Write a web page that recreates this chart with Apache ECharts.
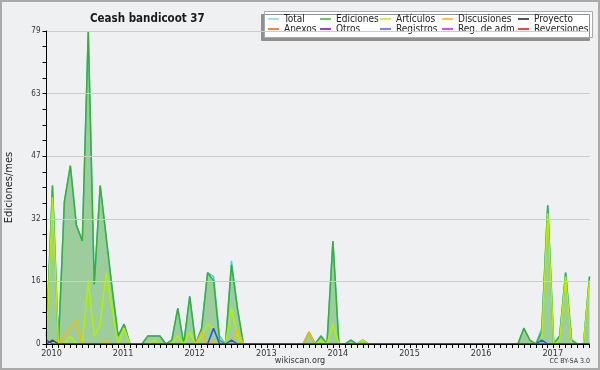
<!DOCTYPE html>
<html><head><meta charset="utf-8">
<script src="https://cdn.jsdelivr.net/npm/echarts@6/dist/echarts.min.js"></script>
<style>html,body{margin:0;padding:0;background:#eff0f2}#c{width:600px;height:370px}</style>
</head><body><div id="c"></div>
<script>
const years = ['2010','2011','2012','2013','2014','2015','2016','2017'];
const yTickLabels = ['0','16','32','47','63','79'];
const monthsShown = 92; // Jan 2010 .. Aug 2017

const total = [2,40,0,36,45,30,26,79,15,40, 27,14,2,5,0,0,0,2,2,2, 0,1,9,0,12,0,4,18,17,2, 0,21,9,0,0,0,0,0,0,0, 0,0,0,0,3,0,2,0,26,0, 0,1,0,1,0,0,0,0,0,0, 0,0,0,0,0,0,0,0,0,0, 0,0,0,0,0,0,0,0,0,0, 4,1,0,4,35,0,2,18,1,0, 0,17];
const ediciones = [2,40,0,36,45,30,26,79,15,40, 27,14,2,5,0,0,0,2,2,2, 0,1,9,0,12,0,4,18,16,1, 0,20,9,0,0,0,0,0,0,0, 0,0,0,0,3,0,2,0,26,0, 0,1,0,1,0,0,0,0,0,0, 0,0,0,0,0,0,0,0,0,0, 0,0,0,0,0,0,0,0,0,0, 4,1,0,3,35,0,2,18,1,0, 0,17];
const articulos = [0,37,0,0,2,0,0,16,2,5, 18,9,0,4,0,0,0,0,1,0, 0,0,2,0,3,0,2,5,4,0, 0,9,2,0,0,0,0,0,0,0, 0,0,0,0,0,0,1,0,5,0, 0,0,0,1,0,0,0,0,0,0, 0,0,0,0,0,0,0,0,0,0, 0,0,0,0,0,0,0,0,0,0, 0,0,0,1,33,0,1,17,0,0, 0,16];
const discusiones = [0,0,0,2,4,6,0,0,0,0, 1,0,0,0,0,0,0,0,0,0, 0,0,0,0,0,0,3,0,1,0, 0,0,4,0,0,0,0,0,0,0, 0,0,0,0,3,0,0,0,0,0, 0,0,0,0,0,0,0,0,0,0, 0,0,0,0,0,0,0,0,0,0, 0,0,0,0,0,0,0,0,0,0, 0,0,0,0,0,0,0,0,0,0, 0,0];
const registros = [1,0,0,0,0,0,0,0,0,0, 0,0,0,0,0,0,0,0,0,0, 0,0,0,0,0,0,0,0,4,0, 0,1,0,0,0,0,0,0,0,0, 0,0,0,0,0,0,0,0,0,0, 0,0,0,0,0,0,0,0,0,0, 0,0,0,0,0,0,0,0,0,0, 0,0,0,0,0,0,0,0,0,0, 0,0,0,1,0,0,0,0,0,0, 0,0];
const proyecto = [0,1,0,0,0,0,0,0,0,0, 0,0,0,0,0,0,0,0,0,0, 0,0,0,0,0,0,0,0,0,0, 0,0,0,0,0,0,0,0,0,0, 0,0,0,0,0,0,0,0,0,0, 0,0,0,0,0,0,0,0,0,0, 0,0,0,0,0,0,0,0,0,0, 0,0,0,0,0,0,0,0,0,0, 0,0,0,0,0,0,0,0,0,0, 0,0];
const anexos = [];
const otros = [];
const regAdm = [];
const reversiones = [];

const categories = [];
for (let i = 0; i < monthsShown; i++) {
  const y = years[Math.floor(i / 12)];
  const m = (i % 12) + 1;
  categories.push(y + '-' + (m < 10 ? '0' + m : m));
}

const F = '"DejaVu Sans Condensed", "DejaVu Sans", sans-serif';
const legendCols = [268, 320, 380, 442, 518];
const legendRows = [14, 24];
const legendItems = [
  ['Total', 0, 0], ['Ediciones', 1, 0], ['Artículos', 2, 0], ['Discusiones', 3, 0], ['Proyecto', 4, 0],
  ['Anexos', 0, 1], ['Otros', 1, 1], ['Registros', 2, 1], ['Reg. de adm.', 3, 1], ['Reversiones', 4, 1]
];
const legendColors = {
  'Total': '#9fe3e3', 'Ediciones': '#6cc46c', 'Artículos': '#c8f53c', 'Discusiones': '#f7c928', 'Proyecto': '#555555',
  'Anexos': '#ff7f40', 'Otros': '#9040f0', 'Registros': '#7a80ff', 'Reg. de adm.': '#d850f0', 'Reversiones': '#ff4040'
};

function line(name, data, color, extra) {
  return Object.assign({
    name, type: 'line', data, symbol: 'none', smooth: false,
    lineStyle: { color, width: 1.5 }, itemStyle: { color }, emphasis: { disabled: true }
  }, extra || {});
}

const chart = echarts.init(document.getElementById('c'), null, { renderer: 'canvas' });
chart.setOption({
  animation: false,
  backgroundColor: '#eff0f2',
  title: { text: 'Ceash bandicoot 37', left: 85, top: 8, textStyle: { fontFamily: F, fontSize: 11.5, fontWeight: 'bold', color: '#1a1a1a' } },
  graphic: [
    { type: 'rect', shape: { x: 1, y: 1, width: 598, height: 368 }, style: { fill: 'none', stroke: '#aaaaaa', lineWidth: 2 }, z: 100, silent: true },
    { type: 'rect', shape: { x: 264.5, y: 11.5, width: 328, height: 26 }, style: { fill: '#ffffff', stroke: '#a8a8a8', lineWidth: 1, shadowColor: '#909090', shadowOffsetX: -3, shadowOffsetY: 3, shadowBlur: 0 }, z: 0, silent: true },
    { type: 'text', left: 'center', top: 356, style: { text: 'wikiscan.org', font: '9px ' + F, fill: '#333333' } },
    { type: 'text', right: 10, top: 358, style: { text: 'CC BY-SA 3.0', font: '7px ' + F, fill: '#333333' } }
  ],
  legend: legendItems.map(([n, c, r]) => ({
    data: [{ name: n, itemStyle: { color: legendColors[n] } }],
    left: legendCols[c], top: legendRows[r], padding: 0, itemWidth: 11, itemHeight: 2, icon: 'rect',
    selectedMode: false, z: 5,
    textStyle: { fontFamily: F, fontSize: 10, color: '#222222' }
  })),
  grid: { left: 46.5, right: 10.5, top: 31, bottom: 26, containLabel: false, outerBoundsMode: 'none' },
  xAxis: {
    type: 'category', data: categories, boundaryGap: false, z: 10,
    axisLine: { lineStyle: { color: '#000000', width: 1 } },
    axisTick: { interval: 0, length: 4, lineStyle: { color: '#000000' } },
    axisLabel: {
      interval: (i) => i % 12 === 0, formatter: (v) => v.slice(0, 4),
      fontFamily: F, fontSize: 9, color: '#333333', margin: 5, padding: [0, 0, 0, 10]
    },
    splitLine: { show: false }
  },
  yAxis: {
    type: 'value', min: 0, max: 79, interval: 15.8, z: 10,
    name: 'Ediciones/mes', nameLocation: 'middle', nameRotate: 90, nameGap: 32,
    nameTextStyle: { fontFamily: F, fontSize: 11, color: '#222222' },
    axisLine: { show: true, lineStyle: { color: '#000000' } },
    axisTick: { show: true, length: 4, lineStyle: { color: '#000000' } },
    minorTick: { show: true, splitNumber: 4, length: 4, lineStyle: { color: '#000000' } },
    axisLabel: { formatter: (v) => yTickLabels[Math.round(v / 15.8)], fontFamily: F, fontSize: 8, color: '#333333', margin: 6 },
    splitLine: { show: true, lineStyle: { color: '#cccccc', width: 1 } }
  },
  series: [
    line('Total', total, '#40d4d4'),
    line('Ediciones', ediciones, '#36b036', { areaStyle: { color: '#9dcd9d', opacity: 1 } }),
    line('Artículos', articulos, '#b4f000'),
    line('Discusiones', discusiones, '#f0c000'),
    line('Registros', registros, '#3048ff'),
    line('Proyecto', proyecto, '#444444'),
    line('Anexos', anexos, '#ff7f40'),
    line('Otros', otros, '#9040f0'),
    line('Reg. de adm.', regAdm, '#d850f0'),
    line('Reversiones', reversiones, '#ff4040')
  ]
});
</script></body></html>
